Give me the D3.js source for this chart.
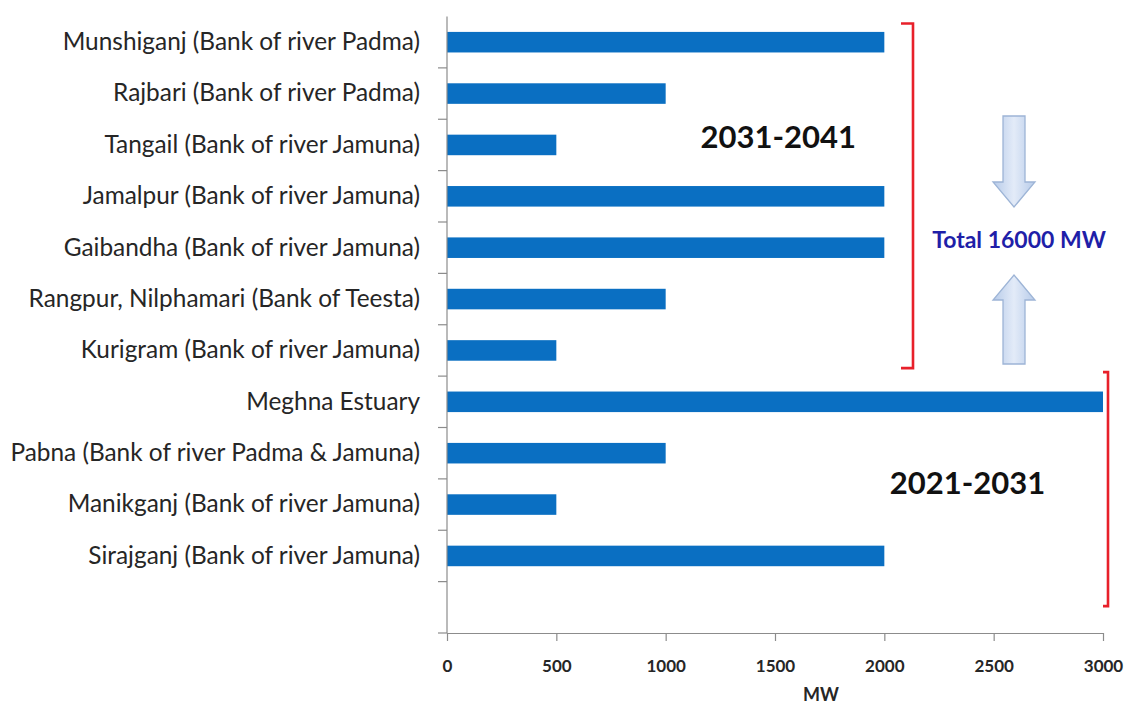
<!DOCTYPE html>
<html>
<head>
<meta charset="utf-8">
<script src="https://cdn.jsdelivr.net/npm/d3@7"></script>
<style>
  html, body { margin: 0; padding: 0; background: #ffffff; }
  svg { display: block; font-family: Lato, "Open Sans", sans-serif; }
</style>
</head>
<body>
<svg id="chart" width="1126" height="706"></svg>
<script>
// Planned river-bank sites and capacity (MW)
const categories = [
  "Munshiganj (Bank of river Padma)",
  "Rajbari (Bank of river Padma)",
  "Tangail (Bank of river Jamuna)",
  "Jamalpur (Bank of river Jamuna)",
  "Gaibandha (Bank of river Jamuna)",
  "Rangpur, Nilphamari (Bank of Teesta)",
  "Kurigram (Bank of river Jamuna) ",
  "Meghna Estuary",
  "Pabna (Bank of river Padma & Jamuna)",
  "Manikganj (Bank of river Jamuna)",
  "Sirajganj (Bank of river Jamuna)",
  ""
];
const capacityMW = [2000, 1000, 500, 2000, 2000, 1000, 500, 3000, 1000, 500, 2000, null];
const xTicks = [0, 500, 1000, 1500, 2000, 2500, 3000];
const xAxisTitle = "MW";
const periodLabels = ["2031-2041", "2021-2031"];
const periodRanges = [[0, 6], [7, 11]];   // category index span of each period
const totalLabel = "Total 16000 MW";

const svg = d3.select("#chart");
const margin = { top: 16.5, right: 23, bottom: 73, left: 447 };
const W = 1126, H = 706;
const plotW = W - margin.left - margin.right;
const plotH = H - margin.top - margin.bottom;

const x = d3.scaleLinear().domain([0, 3000]).range([margin.left, margin.left + plotW]);
const y = d3.scaleBand().domain(categories.map((c, i) => i))
  .range([margin.top, margin.top + plotH]).paddingInner(0.6).paddingOuter(0.3);

const axisColor = "#8c8c8c";
const rows = categories.map((c, i) => ({ name: c, value: capacityMW[i], i }));

// Bars
svg.append("g").selectAll("rect")
  .data(rows.filter(d => d.value != null))
  .join("rect")
  .attr("x", x(0))
  .attr("y", d => y(d.i))
  .attr("width", d => x(d.value) - x(0))
  .attr("height", y.bandwidth())
  .attr("fill", "#0a6fc2");

// Category labels
const labelAxis = d3.axisLeft(y).tickSize(0).tickPadding(27).tickFormat(i => categories[i]);
const gy = svg.append("g").attr("transform", `translate(${x(0)},0)`).call(labelAxis);
gy.select(".domain").remove();
gy.selectAll("text")
  .attr("font-family", "Lato, sans-serif")
  .attr("font-size", 24.4)
  .attr("fill", "#262626");

// Y axis line and band-boundary ticks
const step = y.step();
const boundaries = d3.range(categories.length + 1).map(k => y.range()[0] + k * step);
svg.append("line")
  .attr("x1", x(0)).attr("x2", x(0))
  .attr("y1", y.range()[0]).attr("y2", y.range()[1])
  .attr("stroke", axisColor).attr("stroke-width", 1.2);
svg.append("g").selectAll("line")
  .data(boundaries.slice(1))
  .join("line")
  .attr("x1", x(0) - 9).attr("x2", x(0))
  .attr("y1", d => d).attr("y2", d => d)
  .attr("stroke", axisColor).attr("stroke-width", 1.2);

// X axis
const gx = svg.append("g")
  .attr("transform", `translate(0,${y.range()[1]})`)
  .call(d3.axisBottom(x).tickValues(xTicks).tickFormat(d3.format("d"))
    .tickSize(8).tickPadding(19).tickSizeOuter(0));
gx.select(".domain").attr("stroke", axisColor).attr("stroke-width", 1.2);
gx.selectAll(".tick line").attr("stroke", axisColor).attr("stroke-width", 1.2);
gx.selectAll("text")
  .attr("font-family", "Lato, sans-serif")
  .attr("font-weight", "bold")
  .attr("font-size", 17)
  .attr("fill", "#262626");
svg.append("text")
  .attr("x", (x(0) + x(3000)) / 2 + 46)
  .attr("y", y.range()[1] + 68)
  .attr("text-anchor", "middle")
  .attr("font-weight", "bold")
  .attr("font-size", 18)
  .attr("fill", "#262626")
  .text(xAxisTitle);

// Period brackets
function bracket(xLine, hook, yTop, yBot) {
  return `M${xLine - hook},${yTop} L${xLine},${yTop} L${xLine},${yBot} L${xLine - hook},${yBot}`;
}
const bandTop = i => y.range()[0] + i * step;
const b1Top = bandTop(periodRanges[0][0]) + 7;
const b1Bot = bandTop(periodRanges[0][1] + 1) - 8;
const b2Top = bandTop(periodRanges[1][0]) - 4;
const b2Bot = bandTop(periodRanges[1][1]) + 3 * step / 4 - 14;
svg.append("path")
  .attr("d", bracket(913, 12, b1Top, b1Bot))
  .attr("fill", "none").attr("stroke", "#e8202a").attr("stroke-width", 2.6);
svg.append("path")
  .attr("d", bracket(1108, 5, b2Top, b2Bot))
  .attr("fill", "none").attr("stroke", "#e8202a").attr("stroke-width", 2.6);

// Period labels
svg.append("text")
  .attr("x", x(1515)).attr("y", 148)
  .attr("text-anchor", "middle")
  .attr("font-weight", "bold").attr("font-size", 31)
  .attr("fill", "#111")
  .text(periodLabels[0]);
svg.append("text")
  .attr("x", x(2380)).attr("y", 494)
  .attr("text-anchor", "middle")
  .attr("font-weight", "bold").attr("font-size", 31)
  .attr("fill", "#111")
  .text(periodLabels[1]);

// Total annotation with converging arrows
const defs = svg.append("defs");
const grad = defs.append("linearGradient").attr("id", "arrowFill")
  .attr("x1", "0").attr("x2", "1").attr("y1", "0").attr("y2", "0");
grad.append("stop").attr("offset", "0%").attr("stop-color", "#b7cbe9");
grad.append("stop").attr("offset", "50%").attr("stop-color", "#e3ebf8");
grad.append("stop").attr("offset", "100%").attr("stop-color", "#b7cbe9");

const ax = 1014;  // arrow centre line
function arrowPath(yBase, yHead, yTip) {
  return `M${ax - 11},${yBase} L${ax + 11},${yBase} L${ax + 11},${yHead} L${ax + 21},${yHead} L${ax},${yTip} L${ax - 21},${yHead} L${ax - 11},${yHead} Z`;
}
svg.append("path").attr("d", arrowPath(116, 182, 207))
  .attr("fill", "url(#arrowFill)").attr("stroke", "#9db4d6").attr("stroke-width", 1.3);
svg.append("path").attr("d", arrowPath(364, 300, 275))
  .attr("fill", "url(#arrowFill)").attr("stroke", "#9db4d6").attr("stroke-width", 1.3);

svg.append("text")
  .attr("x", 1019).attr("y", 248)
  .attr("text-anchor", "middle")
  .attr("font-weight", "bold").attr("font-size", 23)
  .attr("fill", "#1f1fa8")
  .text(totalLabel);
</script>
</body>
</html>
